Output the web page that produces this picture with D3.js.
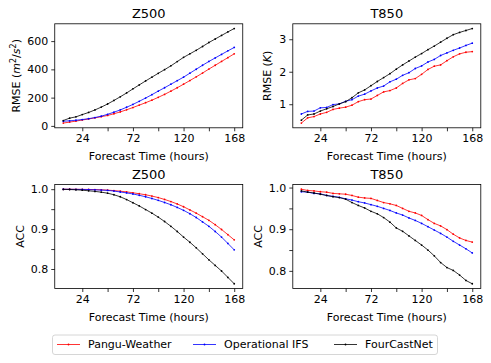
<!DOCTYPE html>
<html>
<head>
<meta charset="utf-8">
<script src="https://cdn.jsdelivr.net/npm/d3@7"></script>
<style>
  body { margin: 0; background: #fff; }
  text { font-family: "DejaVu Sans", sans-serif; fill: #000; }
</style>
</head>
<body>
<script>
// lead times (hours)
const hours = [6,12,18,24,30,36,42,48,54,60,66,72,78,84,90,96,102,108,114,120,126,132,138,144,150,156,162,168];

const seriesNames = ["Pangu-Weather", "Operational IFS", "FourCastNet"];
const seriesColors = ["red", "blue", "black"];

// Z500 RMSE (m2/s2)
const z500RmsePangu = [20,27,34,42,49,57,65,74,86,99,114,130,147,164,182,202,223,246,270,295,321,347,374,402,429,456,483,510];
const z500RmseIfs   = [33,36,40,45,51,59,69,82,97,113,132,152,174,197,221,246,270,295,320,345,373,401,429,456,481,506,531,555];
const z500RmseFcn   = [38,55,64,80,95,113,133,155,180,206,233,262,290,318,345,372,398,425,455,485,510,535,562,590,615,640,665,689];

// T850 RMSE (K)
const t850RmsePangu = [0.42,0.58,0.62,0.70,0.75,0.84,0.88,0.91,0.97,1.08,1.14,1.16,1.27,1.38,1.42,1.50,1.64,1.75,1.79,1.92,2.07,2.17,2.21,2.34,2.46,2.55,2.60,2.62];
const t850RmseIfs   = [0.70,0.78,0.79,0.89,0.90,0.99,1.01,1.09,1.14,1.25,1.31,1.41,1.50,1.56,1.69,1.77,1.89,1.97,2.10,2.18,2.30,2.38,2.50,2.58,2.66,2.73,2.81,2.88];
const t850RmseFcn   = [0.51,0.67,0.70,0.79,0.86,0.93,1.01,1.08,1.20,1.35,1.44,1.57,1.70,1.82,1.94,2.08,2.21,2.33,2.45,2.56,2.68,2.79,2.91,3.03,3.14,3.21,3.27,3.33];

// Z500 ACC
const z500AccPangu = [0.9999,0.9998,0.9997,0.9995,0.9993,0.999,0.9984,0.9976,0.9965,0.995,0.9932,0.991,0.9886,0.986,0.9828,0.979,0.9743,0.969,0.963,0.956,0.948,0.940,0.931,0.922,0.911,0.899,0.886,0.873];
const z500AccIfs   = [0.9998,0.9997,0.9995,0.9993,0.9989,0.9984,0.9978,0.997,0.9953,0.993,0.9907,0.988,0.9847,0.981,0.9767,0.972,0.9667,0.961,0.9543,0.947,0.9385,0.929,0.918,0.907,0.894,0.880,0.864,0.848];
const z500AccFcn   = [0.9995,0.9992,0.9985,0.9975,0.996,0.9945,0.9925,0.990,0.986,0.981,0.974,0.966,0.958,0.949,0.940,0.930,0.919,0.907,0.894,0.880,0.867,0.853,0.838,0.823,0.809,0.795,0.779,0.763];

// T850 ACC
const t850AccPangu = [0.996,0.993,0.992,0.990,0.989,0.986,0.985,0.984,0.981,0.977,0.975,0.974,0.969,0.964,0.961,0.957,0.950,0.943,0.939,0.933,0.923,0.914,0.908,0.899,0.888,0.879,0.873,0.869];
const t850AccIfs   = [0.990,0.989,0.986,0.985,0.981,0.979,0.9765,0.973,0.970,0.966,0.963,0.959,0.955,0.950,0.945,0.939,0.934,0.927,0.921,0.914,0.906,0.898,0.890,0.881,0.871,0.862,0.853,0.843];
const t850AccFcn   = [0.992,0.989,0.987,0.984,0.981,0.978,0.976,0.972,0.964,0.957,0.951,0.943,0.937,0.928,0.917,0.903,0.895,0.884,0.873,0.862,0.850,0.836,0.820,0.808,0.801,0.790,0.777,0.769];

// ticks
const xTicks = [24,48,72,96,120,144,168];
const xTickLabels = [24,72,120,168];
const z500RmseTicks = [0,200,400,600];
const t850RmseTicks = [1,2,3];
const accTicks = [0.8,0.85,0.9,0.95,1.0];
const accTickLabels = [0.8,0.9,1.0];

const svg = d3.select("body")
    .append("svg")
    .attr("width", 491)
    .attr("height", 363);

// padded extent like matplotlib's 5% margins
function padded(values){
    const ext = d3.extent(values);
    const pad = (ext[1] - ext[0]) * 0.05;
    return [ext[0] - pad, ext[1] + pad];
}

function panel(opt){
    const left = opt.left, top = opt.top, width = 188, height = 104;
    const g = svg.append("g").attr("transform", "translate(" + left + "," + top + ")");

    const xScale = d3.scaleLinear().domain(padded(hours)).range([0, width]);
    const yScale = d3.scaleLinear().domain(padded(opt.series.flat())).range([height, 0]);

    const line = d3.line()
        .x(function(d, i){ return xScale(hours[i]); })
        .y(function(d){ return yScale(d); });

    opt.series.forEach(function(s, k){
        g.append("path")
            .datum(s)
            .attr("d", line)
            .attr("fill", "none")
            .attr("stroke", seriesColors[k])
            .attr("stroke-width", 0.8);
        g.selectAll(".dot" + k)
            .data(s)
            .enter()
            .append("circle")
            .attr("class", "dot" + k)
            .attr("cx", function(d, i){ return xScale(hours[i]); })
            .attr("cy", function(d){ return yScale(d); })
            .attr("r", 0.9)
            .attr("fill", seriesColors[k]);
    });

    const xAxis = g.append("g")
        .attr("transform", "translate(0," + height + ")")
        .call(d3.axisBottom(xScale).tickValues(xTicks).tickSize(3.5).tickPadding(3)
            .tickFormat(function(d){ return xTickLabels.indexOf(d) >= 0 ? d : ""; }));

    const yAxis = g.append("g")
        .call(d3.axisLeft(yScale).tickValues(opt.yTicks).tickSize(3.5).tickPadding(3)
            .tickFormat(function(d){
                if (opt.yLabels && !opt.yLabels.some(function(v){ return Math.abs(v - d) < 1e-9; })) return "";
                return opt.yFormat ? d3.format(opt.yFormat)(d) : d;
            }));

    [xAxis, yAxis].forEach(function(a){
        a.select(".domain").remove();
        a.selectAll("line").attr("stroke", "#000").attr("stroke-width", 0.8);
        a.selectAll("text").attr("font-size", "11px").attr("font-family", "DejaVu Sans").attr("fill", "#000");
    });

    g.append("rect")
        .attr("width", width)
        .attr("height", height)
        .attr("fill", "none")
        .attr("stroke", "#000")
        .attr("stroke-width", 0.8);

    svg.append("text")
        .attr("x", left + width / 2)
        .attr("y", top - 6)
        .attr("text-anchor", "middle")
        .attr("font-size", "13px")
        .text(opt.title);

    svg.append("text")
        .attr("x", left + width / 2)
        .attr("y", top + height + 32)
        .attr("text-anchor", "middle")
        .attr("font-size", "11px")
        .text("Forecast Time (hours)");

    const yl = svg.append("text")
        .attr("transform", "translate(" + opt.ylabelX + "," + (top + height / 2) + ") rotate(-90)")
        .attr("text-anchor", "middle")
        .attr("dy", "0.35em")
        .attr("font-size", "11px");
    opt.ylabel(yl);
}

const topRow = 23.8, bottomRow = 184.5;
const leftCol = 54.75, rightCol = 292.8;

panel({
    left: leftCol, top: topRow, title: "Z500",
    series: [z500RmsePangu, z500RmseIfs, z500RmseFcn],
    yTicks: z500RmseTicks, ylabelX: 16,
    ylabel: function(t){
        t.append("tspan").text("RMSE (");
        t.append("tspan").attr("font-style", "italic").text("m");
        t.append("tspan").attr("font-size", "8px").attr("dy", -4).text("2");
        t.append("tspan").attr("dy", 4).text("/");
        t.append("tspan").attr("font-style", "italic").text("s");
        t.append("tspan").attr("font-size", "8px").attr("dy", -4).text("2");
        t.append("tspan").attr("dy", 4).text(")");
    }
});

panel({
    left: rightCol, top: topRow, title: "T850",
    series: [t850RmsePangu, t850RmseIfs, t850RmseFcn],
    yTicks: t850RmseTicks, ylabelX: 267,
    ylabel: function(t){
        t.append("tspan").text("RMSE (");
        t.append("tspan").attr("font-style", "italic").text("K");
        t.append("tspan").text(")");
    }
});

panel({
    left: leftCol, top: bottomRow, title: "Z500",
    series: [z500AccPangu, z500AccIfs, z500AccFcn],
    yTicks: accTicks, yLabels: accTickLabels, yFormat: ".1f", ylabelX: 20,
    ylabel: function(t){ t.text("ACC"); }
});

panel({
    left: rightCol, top: bottomRow, title: "T850",
    series: [t850AccPangu, t850AccIfs, t850AccFcn],
    yTicks: accTicks, yLabels: accTickLabels, yFormat: ".1f", ylabelX: 258,
    ylabel: function(t){ t.text("ACC"); }
});

// legend
const legend = svg.append("g");
legend.append("rect")
    .attr("x", 52.5).attr("y", 335)
    .attr("width", 385).attr("height", 19.5)
    .attr("rx", 2.5)
    .attr("fill", "#fff")
    .attr("stroke", "#cccccc")
    .attr("stroke-width", 0.8);

const legendX = [57, 193, 334];
seriesNames.forEach(function(name, k){
    const x0 = legendX[k];
    legend.append("line")
        .attr("x1", x0).attr("x2", x0 + 23)
        .attr("y1", 344.5).attr("y2", 344.5)
        .attr("stroke", seriesColors[k])
        .attr("stroke-width", 0.8);
    legend.append("circle")
        .attr("cx", x0 + 11.5).attr("cy", 344.5).attr("r", 0.9)
        .attr("fill", seriesColors[k]);
    legend.append("text")
        .attr("x", x0 + 31).attr("y", 344.5)
        .attr("dy", "0.35em")
        .attr("font-size", "11px")
        .text(name);
});
</script>
</body>
</html>
